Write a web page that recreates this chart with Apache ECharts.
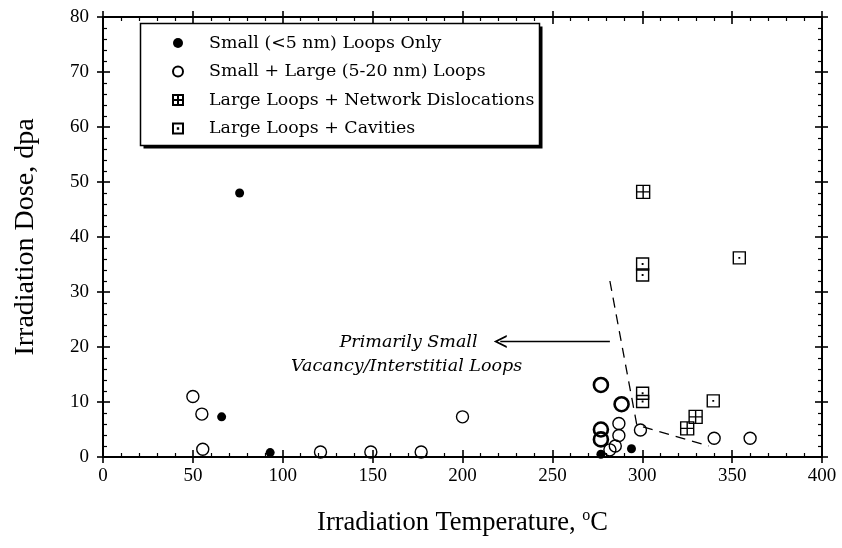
<!DOCTYPE html>
<html><head><meta charset="utf-8">
<script src="https://cdn.jsdelivr.net/npm/echarts@6/dist/echarts.min.js"></script>
<style>html,body{margin:0;padding:0;background:#fff}#c{width:842px;height:548px}</style>
</head><body><div id="c"></div>
<script>
// ---- data (temperature °C, dose dpa) ----
const xTicks = [0, 50, 100, 150, 200, 250, 300, 350, 400];
const yTicks = [0, 10, 20, 30, 40, 50, 60, 70, 80];
const seriesNames = [
  'Small (<5 nm) Loops Only',
  'Small + Large (5-20 nm) Loops',
  'Large Loops + Network Dislocations',
  'Large Loops + Cavities'
];
const smallOnly = [[76, 48], [66, 7.3], [93, 0.8], [277, 0.5], [294, 1.5]];
const smallLarge = [[50, 11], [55, 7.8], [55.5, 1.4], [121, 0.9], [149, 0.9], [177, 0.9], [200, 7.3],
  [287, 6.1], [287, 3.9], [285, 2.0], [282, 1.3], [299, 4.9], [340, 3.4], [360, 3.4]];
const smallLargeBold = [[277, 13.1], [288.5, 9.6], [277, 5.0], [277, 3.2]];
const networkDisl = [[300.5, 48.2], [325, 5.2], [329.7, 7.3]];
const cavities = [[300.2, 35.1], [300.2, 33.1], [300.2, 11.6], [300.2, 10.1], [339.5, 10.2], [354, 36.2]];
const boundary = [[282, 32], [297, 5.8], [337, 2]];
const arrowFrom = [282, 21];
const arrowTo = [221, 21];
const noteLines = ['Primarily Small', 'Vacancy/Interstitial Loops'];

const serif = 'Liberation Serif';
const legendFont = 'DejaVu Serif';
const gridSymbol = 'path://M0,0H10V10H0Z M5,0V10 M0,5H10';
const cavitySymbol = 'path://M0,0H10V10H0Z M4.8,4.8H5.2V5.2H4.8Z';
const chevron = 'path://M5,0L10,10L8.5,10L5,3L1.5,10L0,10Z';

const chart = echarts.init(document.getElementById('c'), null, {renderer: 'canvas'});

function mkX(pos, inside, main) {
  return {
    type: 'value', min: xTicks[0], max: xTicks[xTicks.length - 1], interval: xTicks[1] - xTicks[0],
    position: pos,
    axisLine: {show: main, onZero: false, lineStyle: {color: '#000', width: 2}},
    axisTick: {show: true, inside: inside, length: inside ? 7 : 6, lineStyle: {color: '#000', width: 1.6}},
    minorTick: {show: inside, splitNumber: 5, length: 4, lineStyle: {color: '#000', width: 1.2}},
    axisLabel: {show: main && pos === 'bottom', margin: 10, color: '#000', fontFamily: serif, fontSize: 19},
    splitLine: {show: false},
    name: (main && pos === 'bottom') ? 'Irradiation Temperature, {s|o}C' : '',
    nameLocation: 'middle', nameGap: 51,
    nameTextStyle: {color: '#000', fontFamily: serif, fontSize: 26.5, lineHeight: 30,
      rich: {s: {fontFamily: serif, fontSize: 16, verticalAlign: 'top', lineHeight: 30, color: '#000'}}}
  };
}
function mkY(pos, inside, main) {
  return {
    type: 'value', min: yTicks[0], max: yTicks[yTicks.length - 1], interval: yTicks[1] - yTicks[0],
    position: pos,
    axisLine: {show: main, onZero: false, lineStyle: {color: '#000', width: 2}},
    axisTick: {show: true, inside: inside, length: inside ? 7 : 6, lineStyle: {color: '#000', width: 1.6}},
    minorTick: {show: inside, splitNumber: 5, length: 4, lineStyle: {color: '#000', width: 1.2}},
    axisLabel: {show: main && pos === 'left', margin: 14, color: '#000', fontFamily: serif, fontSize: 19},
    splitLine: {show: false},
    name: (main && pos === 'left') ? 'Irradiation Dose, dpa' : '',
    nameLocation: 'middle', nameGap: 63,
    nameTextStyle: {color: '#000', fontFamily: serif, fontSize: 28}
  };
}

const option = {
  backgroundColor: '#fff',
  animation: false,
  grid: {left: 103, right: 20, top: 17, bottom: 91},
  xAxis: [mkX('bottom', true, true), mkX('bottom', false, false), mkX('top', true, true), mkX('top', false, false)],
  yAxis: [mkY('left', true, true), mkY('left', false, false), mkY('right', true, true), mkY('right', false, false)],
  legend: {
    orient: 'vertical', left: 140, top: 23, z: 10,
    data: seriesNames,
    itemWidth: 10, itemHeight: 10, itemGap: 8.5,
    padding: [10, 6, 8, 32],
    backgroundColor: 'transparent', borderWidth: 0,
    selectedMode: false,
    textStyle: {color: '#000', fontFamily: legendFont, fontSize: 17.4, lineHeight: 20, padding: [0, 0, 0, 21]}
  },
  graphic: [
    {type: 'rect', z: 5, shape: {x: 143.5, y: 26.5, width: 399, height: 122}, style: {fill: '#000'}},
    {type: 'rect', z: 6, shape: {x: 140.5, y: 23.5, width: 399, height: 122}, style: {fill: '#fff', stroke: '#000', lineWidth: 1.5}}
  ],
  series: [
    {
      type: 'line', data: boundary, symbol: 'none', silent: true, z: 1,
      lineStyle: {color: '#000', width: 1.3, type: [10, 7]}
    },
    {
      type: 'lines', coordinateSystem: 'cartesian2d', silent: true, z: 1,
      data: [{coords: [arrowFrom, arrowTo]}],
      symbol: ['none', chevron], symbolSize: [11, 13],
      lineStyle: {color: '#000', width: 1.3, opacity: 1}
    },
    {
      name: seriesNames[0], type: 'scatter', data: smallOnly, symbol: 'circle', symbolSize: 9, z: 3,
      itemStyle: {color: '#000', opacity: 1}
    },
    {
      name: seriesNames[1], type: 'scatter', data: smallLarge, symbol: 'circle', symbolSize: 12, z: 2,
      itemStyle: {color: 'rgba(255,255,255,0)', borderColor: '#000', borderWidth: 1.4, opacity: 1}
    },
    {
      name: seriesNames[1], type: 'scatter', data: smallLargeBold, symbol: 'circle', symbolSize: 14, z: 2,
      itemStyle: {color: 'rgba(255,255,255,0)', borderColor: '#000', borderWidth: 2.6, opacity: 1}
    },
    {
      name: seriesNames[2], type: 'scatter', data: networkDisl, symbol: gridSymbol, symbolSize: 13, z: 2,
      itemStyle: {color: 'rgba(255,255,255,0)', borderColor: '#000', borderWidth: 1.4, opacity: 1}
    },
    {
      name: seriesNames[3], type: 'scatter', data: cavities, symbol: cavitySymbol, symbolSize: 12, z: 2,
      itemStyle: {color: 'rgba(255,255,255,0)', borderColor: '#000', borderWidth: 1.4, opacity: 1}
    }
  ]
};
chart.setOption(option);

// annotation text, anchored in data coordinates through the chart's own scales
const anchor = chart.convertToPixel({xAxisIndex: 0, yAxisIndex: 0}, [170, 21]);
chart.setOption({
  graphic: [
    {type: 'rect', z: 5, shape: {x: 143.5, y: 26.5, width: 399, height: 122}, style: {fill: '#000'}},
    {type: 'rect', z: 6, shape: {x: 140.5, y: 23.5, width: 399, height: 122}, style: {fill: '#fff', stroke: '#000', lineWidth: 1.5}},
    {type: 'text', x: anchor[0] + 0, y: anchor[1] + 1, style: {text: noteLines[0], fill: '#000',
      font: 'italic 17.5px "DejaVu Serif"', textAlign: 'center', textVerticalAlign: 'middle'}},
    {type: 'text', x: anchor[0] - 2, y: anchor[1] + 25, style: {text: noteLines[1], fill: '#000',
      font: 'italic 17.5px "DejaVu Serif"', textAlign: 'center', textVerticalAlign: 'middle'}}
  ]
});
</script>
</body></html>
